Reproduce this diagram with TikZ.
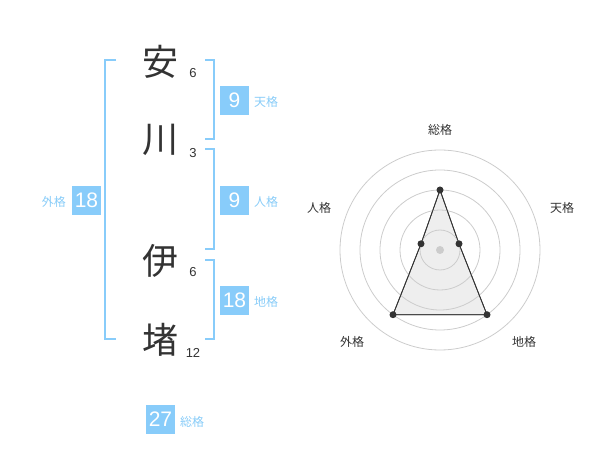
\documentclass[tikz,border=0pt]{standalone}
\usepackage{fontspec}
\setmainfont{Liberation Sans}
\newfontfamily\cjk{Noto Sans CJK JP}
\definecolor{bl}{HTML}{88CCFA}
\definecolor{lbl}{HTML}{88CCF8}
\definecolor{dk}{HTML}{333333}
\definecolor{ring}{HTML}{CCCCCC}
\definecolor{area}{HTML}{EEEEEE}
\tikzset{
  kanji/.style={font=\cjk\fontsize{36}{36}\selectfont, text=dk, inner sep=0pt},
  strk/.style={font=\fontsize{13}{13}\selectfont, text=dk, inner sep=0pt},
  numbox/.style={fill=bl, text=white, minimum width=29pt, minimum height=29pt, inner sep=0pt, font=\fontsize{21}{21}\selectfont},
  kaku/.style={font=\cjk\fontsize{12}{12}\selectfont, text=lbl, inner sep=0pt},
  axlbl/.style={font=\cjk\fontsize{12}{12}\selectfont, text=dk, inner sep=0pt},
  brk/.style={draw=bl, line width=2pt},
  ringc/.style={draw=ring, line width=0.8pt},
  pt/.style={circle, fill=dk, minimum size=7pt, inner sep=0pt},
}
\begin{document}
\begin{tikzpicture}[x=1pt,y=-1pt]
\useasboundingbox (0,0) rectangle (600,470);
% characters
\node[kanji] (c1) at (160,62) {安};
\node[kanji] (c2) at (160,140) {川};
\node[kanji] (c3) at (160,261) {伊};
\node[kanji] (c4) at (160,340) {堵};
\node[strk] (s1) at (193,73) {6};
\node[strk] (s2) at (193,153) {3};
\node[strk] (s3) at (193,272) {6};
\node[strk] (s4) at (193,353) {12};
% brackets
\draw[brk] (116,60) -- (105,60) -- (105,339) -- (116,339);
\draw[brk] (205,60) -- (214,60) -- (214,139) -- (205,139);
\draw[brk] (205,149) -- (214,149) -- (214,249) -- (205,249);
\draw[brk] (205,260) -- (214,260) -- (214,339) -- (205,339);
% boxes
\node[numbox] (ten) at (234.5,100.5) {9};
\node[kaku, anchor=west] (tenl) at (254,102) {天格};
\node[numbox] (jin) at (234.5,200.5) {9};
\node[kaku, anchor=west] (jinl) at (254,202) {人格};
\node[numbox] (chi) at (234.5,300.5) {18};
\node[kaku, anchor=west] (chil) at (254,302) {地格};
\node[numbox] (gai) at (86.5,200.5) {18};
\node[kaku, anchor=east] (gail) at (66,202) {外格};
\node[numbox] (sou) at (160.5,419) {27};
\node[kaku, anchor=west] (soul) at (180,422) {総格};
% radar
\coordinate (O) at (440,250);
\fill[area, draw=dk, line width=0.8pt] (440,190) -- (459.0,243.8) -- (487.0,314.7) -- (393.0,314.7) -- (421.0,243.8) -- cycle;
\foreach \r in {20,40,60,80,100} \draw[ringc] (O) circle (\r);
\draw[dk, line width=0.8pt] (440,190) -- (459.0,243.8) -- (487.0,314.7) -- (393.0,314.7) -- (421.0,243.8) -- cycle;
\node[circle, fill=ring, minimum size=8pt, inner sep=0pt] (ctr) at (O) {};
\node[pt] (ps) at (440,190) {};
\node[pt] (pt2) at (459.0,243.8) {};
\node[pt] (pc) at (487.0,314.7) {};
\node[pt] (pg) at (393.0,314.7) {};
\node[pt] (pj) at (421.0,243.8) {};
\node[axlbl] (ls) at (440,130) {総格};
\node[axlbl] (lt) at (562,208) {天格};
\node[axlbl] (lj) at (319,208) {人格};
\node[axlbl] (lg) at (352,342) {外格};
\node[axlbl] (lc) at (524,342) {地格};
\end{tikzpicture}
\end{document}
